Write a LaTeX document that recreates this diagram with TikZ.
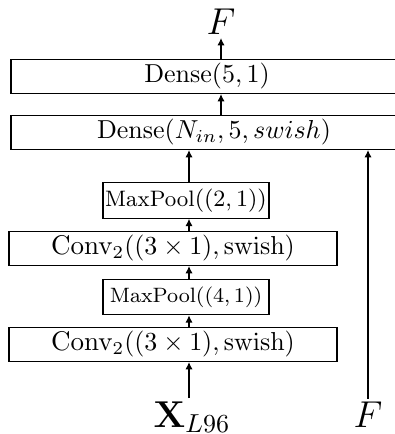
\documentclass[tikz,border=0pt]{standalone}
\usepackage{amsmath,amssymb,bm}
\usetikzlibrary{arrows.meta,positioning,calc}

\begin{document}
\begin{tikzpicture}[x=0.385pt,y=0.385pt,>={Latex[length=2.8pt,width=2.8pt]},line width=0.5pt,
  layer/.style={draw,inner sep=0pt,minimum height=13pt},
  convlayer/.style={layer,minimum width=126.3pt,font=\fontsize{10.4}{12}\selectfont},
  poollayer/.style={layer,minimum width=63.9pt,minimum height=13.6pt}]
  \clip (0,0) rectangle (395,434);
  % stack of layers, bottom to top
  \node[convlayer] (conv1) at (173,89.5) {Conv$_2((3\times 1),\mathrm{swish})$};
  \node[poollayer,font=\footnotesize] (pool1) at (186,137) {MaxPool$((4,1))$};
  \node[convlayer] (conv2) at (173,185.5) {Conv$_2((3\times 1),\mathrm{swish})$};
  \node[poollayer,font=\fontsize{8.6}{10}\selectfont] (pool2) at (186,233.5) {MaxPool$((2,1))$};
  \node[layer,minimum width=156.3pt] (dense1) at (214,301.5) {Dense$(N_{in},5,swish)$};
  \node[layer,minimum width=150.9pt] (dense2) at (207,357.5) {Dense$(5,1)$};
  % inputs and output
  \node[font=\Large,inner sep=1pt] (xin) at (192,17) {$\mathbf{X}_{L96}$};
  \node[font=\Large,inner sep=1pt] (fin) at (368,19) {$F$};
  \node[font=\Large,inner sep=1pt] (fout) at (221,412) {$F$};
  \coordinate (sp) at (189,0);
  \draw[->] (xin.north -| sp) -- (conv1.south -| sp);
  \draw[->] (conv1.north -| sp) -- (pool1.south -| sp);
  \draw[->] (pool1.north -| sp) -- (conv2.south -| sp);
  \draw[->] (conv2.north -| sp) -- (pool2.south -| sp);
  \draw[->] (pool2.north -| sp) -- (dense1.south -| sp);
  \draw[->] (dense1.north -| fout) -- (dense2.south -| fout);
  \draw[->] (dense2.north -| fout) -- (fout.south);
  \draw[->] (fin.north) -- (dense1.south -| fin);
\end{tikzpicture}
\end{document}
